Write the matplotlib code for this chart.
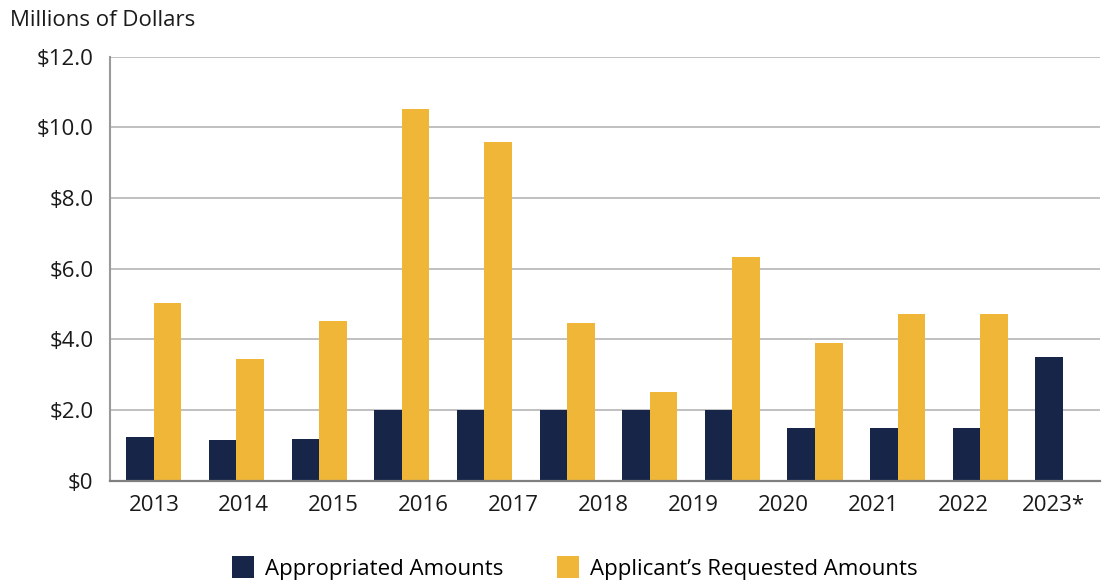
import numpy as np
import matplotlib
matplotlib.use("Agg")
import matplotlib.pyplot as plt
from matplotlib.patches import Patch

plt.rcParams['font.family'] = ['Open Sans', 'DejaVu Sans']

# Data (millions of dollars), 12 bar groups as drawn in the reference
appropriated = [1.25, 1.15, 1.19, 2.0, 2.0, 2.0, 2.0, 2.0, 1.5, 1.5, 1.5, 3.5]
requested = [5.02, 3.44, 4.52, 10.52, 9.6, 4.45, 2.52, 6.34, 3.9, 4.71, 4.71, np.nan]
year_labels = ['2013', '2014', '2015', '2016', '2017', '2018', '2019',
               '2020', '2021', '2022', '2023*']
y_ticks = [0, 2, 4, 6, 8, 10, 12]
y_tick_labels = ['$0', '$2.0', '$4.0', '$6.0', '$8.0', '$10.0', '$12.0']
series_names = ['Appropriated Amounts', 'Applicant\u2019s Requested Amounts']

navy = '#172548'
gold = '#EFB638'

fig = plt.figure(figsize=(11.08, 5.84), dpi=100)
ax = fig.add_axes([0.0993, 0.1769, 0.8937, 0.726])

x = np.arange(len(appropriated))
w = 0.334
ax.bar(x - w / 2, appropriated, width=w, color=navy, zorder=3)
ax.bar(x + w / 2, requested, width=w, color=gold, zorder=3)

ax.set_ylim(0, 12)
ax.set_xlim(-0.53, 11.45)
ax.set_yticks(y_ticks)
ax.set_yticklabels(y_tick_labels, fontsize=16, color='#1a1a1a')
label_pos = np.linspace(0, 10.88, len(year_labels))
ax.set_xticks(label_pos)
ax.set_xticklabels(year_labels, fontsize=16, color='#1a1a1a')
ax.tick_params(axis='both', length=0)
ax.tick_params(axis='y', pad=12)
ax.tick_params(axis='x', pad=10)

ax.grid(axis='y', color='#b5b5b5', linewidth=1.2, zorder=0)
for s in ['top', 'right']:
    ax.spines[s].set_visible(False)
ax.spines['left'].set_color('#9a9a9a')
ax.spines['left'].set_linewidth(1.5)
ax.spines['bottom'].set_color('#808080')
ax.spines['bottom'].set_linewidth(1.6)
ax.spines['bottom'].set_zorder(4)

fig.text(10 / 1108, 1 - 20 / 584, 'Millions of Dollars', fontsize=16,
         ha='left', va='center', color='#1a1a1a')

handles = [Patch(facecolor=navy), Patch(facecolor=gold)]
fig.legend(handles, series_names, loc='center', ncol=2,
           bbox_to_anchor=(575 / 1108, 1 - 568 / 584), frameon=False,
           fontsize=16, handlelength=1.0, handleheight=1.15,
           handletextpad=0.5, columnspacing=2.4)

fig.savefig('out.png', dpi=100)
